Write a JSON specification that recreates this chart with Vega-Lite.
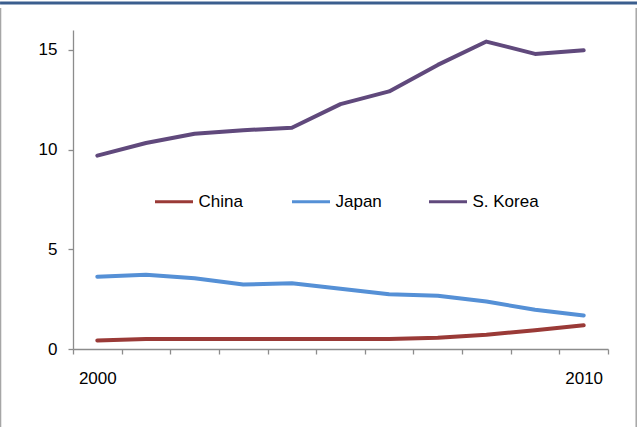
{
  "$schema": "https://vega.github.io/schema/vega-lite/v6.json",
  "width": 535,
  "height": 319,
  "autosize": {"type": "none"},
  "padding": {"left": 73, "top": 30, "right": 29, "bottom": 78},
  "background": "white",
  "config": {
    "view": {"stroke": null},
    "font": "Liberation Sans",
    "axis": {
      "grid": false,
      "title": null,
      "domainColor": "#8c8c8c",
      "domainWidth": 1.3,
      "tickColor": "#8c8c8c",
      "tickWidth": 1.3,
      "tickSize": 5,
      "labelColor": "#000000",
      "labelFont": "Liberation Sans",
      "labelFontSize": 17
    }
  },
  "data": {
    "values": [
      {"year": 2000, "country": "China", "value": 0.43},
      {"year": 2001, "country": "China", "value": 0.5},
      {"year": 2002, "country": "China", "value": 0.5},
      {"year": 2003, "country": "China", "value": 0.5},
      {"year": 2004, "country": "China", "value": 0.5},
      {"year": 2005, "country": "China", "value": 0.5},
      {"year": 2006, "country": "China", "value": 0.5},
      {"year": 2007, "country": "China", "value": 0.57},
      {"year": 2008, "country": "China", "value": 0.72},
      {"year": 2009, "country": "China", "value": 0.94},
      {"year": 2010, "country": "China", "value": 1.19},
      {"year": 2000, "country": "Japan", "value": 3.63},
      {"year": 2001, "country": "Japan", "value": 3.72},
      {"year": 2002, "country": "Japan", "value": 3.55},
      {"year": 2003, "country": "Japan", "value": 3.23},
      {"year": 2004, "country": "Japan", "value": 3.3},
      {"year": 2005, "country": "Japan", "value": 3.02},
      {"year": 2006, "country": "Japan", "value": 2.75},
      {"year": 2007, "country": "Japan", "value": 2.67},
      {"year": 2008, "country": "Japan", "value": 2.38},
      {"year": 2009, "country": "Japan", "value": 1.97},
      {"year": 2010, "country": "Japan", "value": 1.68},
      {"year": 2000, "country": "S. Korea", "value": 9.7},
      {"year": 2001, "country": "S. Korea", "value": 10.33},
      {"year": 2002, "country": "S. Korea", "value": 10.8},
      {"year": 2003, "country": "S. Korea", "value": 10.97},
      {"year": 2004, "country": "S. Korea", "value": 11.1},
      {"year": 2005, "country": "S. Korea", "value": 12.28},
      {"year": 2006, "country": "S. Korea", "value": 12.92},
      {"year": 2007, "country": "S. Korea", "value": 14.25},
      {"year": 2008, "country": "S. Korea", "value": 15.42},
      {"year": 2009, "country": "S. Korea", "value": 14.8},
      {"year": 2010, "country": "S. Korea", "value": 14.98}
    ]
  },
  "layer": [
    {
      "mark": {"type": "line", "strokeWidth": 4, "strokeCap": "round", "strokeJoin": "round"},
      "encoding": {
        "x": {
          "field": "year",
          "type": "quantitative",
          "scale": {"domain": [1999.5, 2010.5], "nice": false, "zero": false},
          "axis": {
            "values": [1999.5, 2000.5, 2001.5, 2002.5, 2003.5, 2004.5, 2005.5, 2006.5, 2007.5, 2008.5, 2009.5, 2010.5],
            "labelExpr": "datum.value == 1999.5 ? '2000' : (datum.value == 2009.5 ? '2010' : '')",
            "labelOffset": 24.3,
            "labelPadding": 16,
            "labelFlush": false,
            "labelOverlap": false,
            "labelBound": false
          }
        },
        "y": {
          "field": "value",
          "type": "quantitative",
          "scale": {"domain": [0, 16], "nice": false},
          "axis": {"values": [0, 5, 10, 15], "labelPadding": 11}
        },
        "color": {
          "field": "country",
          "type": "nominal",
          "scale": {"domain": ["China", "Japan", "S. Korea"], "range": ["#9a3a37", "#5590d6", "#60497c"]},
          "legend": {
            "orient": "none",
            "legendX": 80.5,
            "legendY": 151,
            "direction": "horizontal",
            "columns": 3,
            "gridAlign": "all",
            "title": null,
            "padding": 0,
            "symbolType": "stroke",
            "symbolSize": 1444,
            "symbolStrokeWidth": 3,
            "labelFont": "Liberation Sans",
            "labelFontSize": 17,
            "labelColor": "#000000",
            "labelOffset": 4,
            "columnPadding": 20
          }
        }
      }
    },
    {
      "data": {"values": [{"edge": "top"}]},
      "mark": {"type": "rule", "color": "#3b5e8e", "strokeWidth": 3, "clip": false},
      "encoding": {
        "x": {"datum": 1998.0},
        "x2": {"datum": 2011.1},
        "y": {"datum": 17.35}
      }
    },
    {
      "data": {"values": [{"edge": "left"}]},
      "mark": {"type": "rule", "color": "#a6a6a6", "strokeWidth": 1.5, "clip": false},
      "encoding": {
        "x": {"datum": 1998.01},
        "y": {"datum": -5},
        "y2": {"datum": 17.1}
      }
    },
    {
      "data": {"values": [{"edge": "right"}]},
      "mark": {"type": "rule", "color": "#a6a6a6", "strokeWidth": 1.5, "clip": false},
      "encoding": {
        "x": {"datum": 2011.08},
        "y": {"datum": -5},
        "y2": {"datum": 17.1}
      }
    }
  ]
}
